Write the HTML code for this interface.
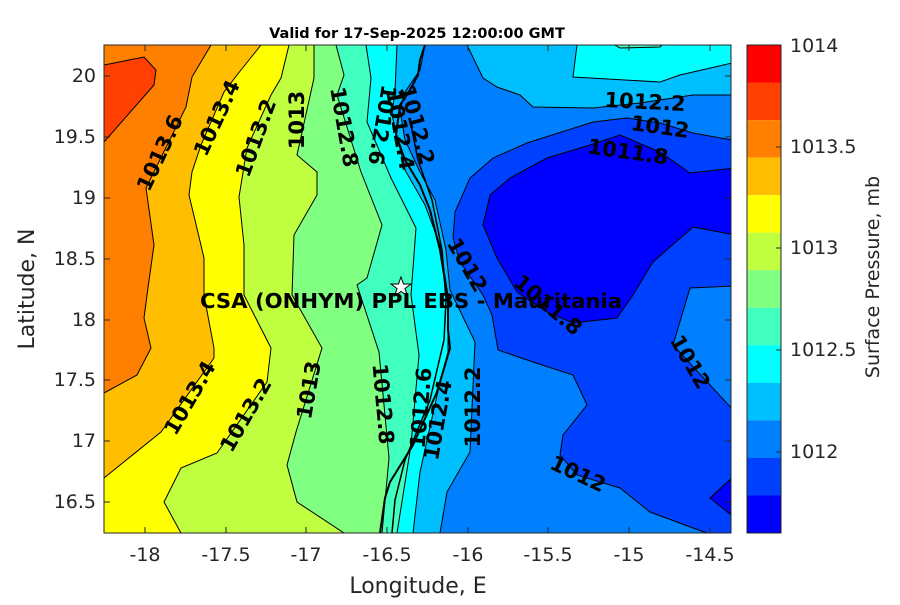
<!DOCTYPE html>
<html><head><meta charset="utf-8"><style>
body{margin:0;background:#fff;}
svg text{font-family:"DejaVu Sans","Liberation Sans",sans-serif;}
.cl{font-weight:bold;font-size:21px;fill:#000;}
.tk{font-size:19px;fill:#262626;}
</style></head><body>
<svg width="900" height="600" viewBox="0 0 900 600" xmlns="http://www.w3.org/2000/svg">
<rect width="900" height="600" fill="#fff"/>
<defs><clipPath id="c"><rect x="104" y="45" width="627" height="488"/></clipPath></defs>
<g clip-path="url(#c)" stroke="#000" stroke-width="1">
<rect x="104" y="45" width="627" height="488" fill="#0080ff" stroke="none"/>
<polygon fill="#00bfff" points="440,45 467,45 483,78 497,87 520,95 533,107 593,108 640,103 693,95 732,95 732,45"/>
<polygon fill="#00ffff" points="577,45 573,77 660,82 680,75 732,63 732,45"/>
<polygon fill="#40ffbf" points="613,44 620,48 660,47 663,44"/>
<polygon fill="#0040ff" points="732,140 693,133 660,123 627,118 593,122 527,143 493,158 470,178 455,212 453,238 460,262 483,295 492,315 498,350 533,362 573,375 587,405 563,435 560,455 577,475 620,488 650,512 693,528 707,533 735,535 735,140"/>
<polygon fill="#0080ff" points="735,286 690,288 673,345 710,385 735,412"/>
<polygon fill="#0000ff" points="590,145 620,135 660,152 690,173 735,168 735,235 693,227 653,262 633,295 617,318 573,323 547,312 517,292 497,258 483,225 490,195 510,178 547,158"/>
<polygon fill="#0000ff" points="735,475 710,498 735,518"/>
<polygon fill="#00bfff" points="425,45 420,70 405,92 400,110 405,140 420,172 435,200 446,250 450,290 475,342 470,452 447,492 440,533 104,533 104,45"/>
<polygon fill="#00ffff" points="397,45 395,90 392,115 405,170 425,205 440,245 448,295 448,352 440,382 420,472 413,533 104,533 104,45"/>
<polygon fill="#40ffbf" points="366,45 371,78 367,122 391,178 416,228 411,295 419,355 411,445 397,533 104,533 104,45"/>
<polygon fill="#80ff80" points="336,45 344,75 337,95 361,172 382,225 367,278 357,285 379,352 389,458 382,533 104,533 104,45"/>
<polygon fill="#bfff40" points="314,45 314,78 297,155 317,172 317,195 294,235 292,295 322,348 296,432 287,465 297,502 344,533 104,533 104,45"/>
<polygon fill="#ffff00" points="289,45 281,78 271,95 247,148 239,197 244,245 244,295 271,348 267,382 217,453 181,468 164,502 181,533 104,533 104,45"/>
<polygon fill="#ffbf00" points="261,45 237,75 224,92 201,145 192,172 189,195 204,258 204,295 214,348 214,358 161,432 104,478 104,45"/>
<polygon fill="#ff8000" points="211,45 192,77 186,107 146,188 154,245 147,295 144,318 151,348 137,375 104,393 104,45"/>
<polygon fill="#ff4000" points="104,65 144,57 156,70 154,85 104,142"/>
<polyline fill="none" stroke-width="2" points="425,45 420,60 418,75 410,90 400,105 398,120 396,135 405,160 420,185 430,210 440,250 448,300 448,330 450,348 437,392 413,445 390,482 385,498 380,533"/>
<polyline fill="none" stroke-width="1.5" points="410,120 418,160 432,200 442,250 446,300 444,340 430,400 405,460 395,500 392,533"/>
</g>
<rect x="104" y="45" width="627" height="488" fill="none" stroke="#262626" stroke-width="1"/>
<g stroke="#262626">
<path d="M145,533v-6M226,533v-6M306,533v-6M387,533v-6M468,533v-6M548,533v-6M629,533v-6M710,533v-6M145,45v6M226,45v6M306,45v6M387,45v6M468,45v6M548,45v6M629,45v6M710,45v6"/>
<path d="M104,76h6M104,137h6M104,198h6M104,259h6M104,320h6M104,380h6M104,441h6M104,502h6M731,76h-6M731,137h-6M731,198h-6M731,259h-6M731,320h-6M731,380h-6M731,441h-6M731,502h-6"/>
</g>
<g class="cl" text-anchor="middle" dominant-baseline="central">
<text transform="translate(160,153) rotate(-65)">1013.6</text>
<text transform="translate(217,118) rotate(-65)">1013.4</text>
<text transform="translate(256,138) rotate(-70)">1013.2</text>
<text transform="translate(297,120) rotate(-90)">1013</text>
<text transform="translate(344,127) rotate(80)">1012.8</text>
<text transform="translate(382,125) rotate(100)">1012.6</text>
<text transform="translate(400,130) rotate(80)">1012.4</text>
<text transform="translate(417,125) rotate(75)">1012.2</text>
<text transform="translate(645,102) rotate(3)">1012.2</text>
<text transform="translate(660,127) rotate(8)">1012</text>
<text transform="translate(628,152) rotate(8)">1011.8</text>
<text transform="translate(467,265) rotate(60)">1012</text>
<text transform="translate(548,305) rotate(40)">1011.8</text>
<text transform="translate(690,362) rotate(60)">1012</text>
<text transform="translate(578,474) rotate(25)">1012</text>
<text transform="translate(190,398) rotate(-60)">1013.4</text>
<text transform="translate(246,415) rotate(-60)">1013.2</text>
<text transform="translate(309,390) rotate(-80)">1013</text>
<text transform="translate(383,404) rotate(85)">1012.8</text>
<text transform="translate(421,408) rotate(-85)">1012.6</text>
<text transform="translate(438,420) rotate(-80)">1012.4</text>
<text transform="translate(473,407) rotate(-90)">1012.2</text>
</g>
<polygon points="401,277 403.5,284 411,284 405,288.5 407.5,296 401,291.5 394.5,296 397,288.5 391,284 398.5,284" fill="#fff" stroke="#000" stroke-width="1"/>
<text x="411" y="308" text-anchor="middle" font-weight="bold" font-size="20" fill="#000" textLength="422" lengthAdjust="spacingAndGlyphs">CSA (ONHYM) PPL EBS  - Mauritania</text>
<text x="417" y="38" text-anchor="middle" font-weight="bold" font-size="14.5" fill="#000">Valid for 17-Sep-2025 12:00:00 GMT</text>
<g class="tk" text-anchor="middle">
<text x="145" y="561">-18</text><text x="226" y="561">-17.5</text><text x="306" y="561">-17</text><text x="387" y="561">-16.5</text><text x="468" y="561">-16</text><text x="548" y="561">-15.5</text><text x="629" y="561">-15</text><text x="710" y="561">-14.5</text>
</g>
<g class="tk" text-anchor="end" dominant-baseline="central">
<text x="96" y="76">20</text><text x="96" y="137">19.5</text><text x="96" y="198">19</text><text x="96" y="259">18.5</text><text x="96" y="320">18</text><text x="96" y="380">17.5</text><text x="96" y="441">17</text><text x="96" y="502">16.5</text>
</g>
<text x="418" y="593" text-anchor="middle" font-size="22" fill="#262626">Longitude, E</text>
<text transform="translate(34,289) rotate(-90)" text-anchor="middle" font-size="22" fill="#262626">Latitude, N</text>
<g>
<rect x="747" y="45.0" width="34" height="37.6" fill="#ff0000"/>
<rect x="747" y="82.5" width="34" height="37.6" fill="#ff4000"/>
<rect x="747" y="120.1" width="34" height="37.6" fill="#ff8000"/>
<rect x="747" y="157.6" width="34" height="37.6" fill="#ffbf00"/>
<rect x="747" y="195.2" width="34" height="37.6" fill="#ffff00"/>
<rect x="747" y="232.7" width="34" height="37.6" fill="#bfff40"/>
<rect x="747" y="270.2" width="34" height="37.6" fill="#80ff80"/>
<rect x="747" y="307.8" width="34" height="37.6" fill="#40ffbf"/>
<rect x="747" y="345.3" width="34" height="37.6" fill="#00ffff"/>
<rect x="747" y="382.8" width="34" height="37.6" fill="#00bfff"/>
<rect x="747" y="420.4" width="34" height="37.6" fill="#0080ff"/>
<rect x="747" y="457.9" width="34" height="37.6" fill="#0040ff"/>
<rect x="747" y="495.5" width="34" height="37.5" fill="#0000ff"/>
<rect x="747" y="45" width="34" height="488" fill="none" stroke="#262626"/>
<path d="M781,147h-5M781,248h-5M781,350h-5M781,452h-5" stroke="#262626"/>
</g>
<g class="tk" dominant-baseline="central">
<text x="790" y="46">1014</text><text x="790" y="147">1013.5</text><text x="790" y="248">1013</text><text x="790" y="350">1012.5</text><text x="790" y="452">1012</text>
</g>
<text transform="translate(879,277) rotate(-90)" text-anchor="middle" font-size="19" fill="#262626">Surface Pressure, mb</text>
</svg>
</body></html>
